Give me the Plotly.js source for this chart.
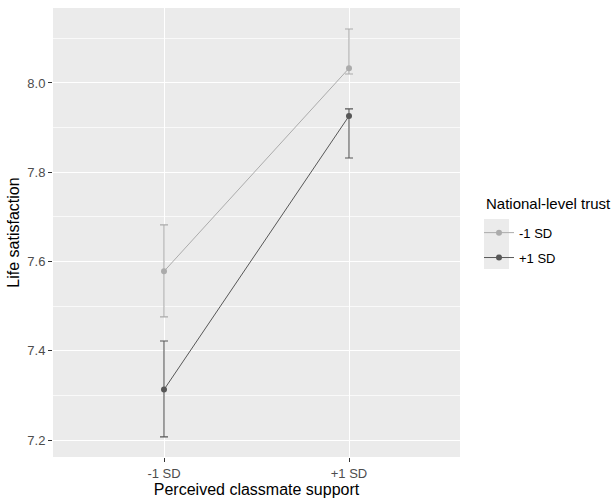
<!DOCTYPE html>
<html>
<head>
<meta charset="utf-8">
<script src="https://cdn.plot.ly/plotly-3.0.1.min.js"></script>
<style>html,body{margin:0;padding:0;background:#fff;}#chart{width:616px;height:498px;}</style>
</head>
<body>
<div id="chart"></div>
<script>
const categories = ["-1 SD", "+1 SD"];
const seriesNames = ["-1 SD", "+1 SD"];
const legendTitle = "National-level trust";
const lowTrustMean = [7.578, 8.033];
const lowTrustUpper = [7.682, 8.121];
const lowTrustLower = [7.476, 8.020];
const highTrustMean = [7.313, 7.926];
const highTrustUpper = [7.422, 7.942];
const highTrustLower = [7.207, 7.832];

const colors = ["#ababab", "#575757"];

function mkTrace(name, mean, up, lo, color) {
  return {
    type: "scatter", mode: "lines+markers", name: name, legendgroup: name,
    x: categories, y: mean,
    line: {color: color, width: 1},
    marker: {color: color, size: 6},
    error_y: {
      type: "data", symmetric: false,
      array: mean.map((m, i) => up[i] - m),
      arrayminus: mean.map((m, i) => m - lo[i]),
      color: color, thickness: 1.1, width: 4
    }
  };
}

const data = [
  mkTrace(seriesNames[0], lowTrustMean, lowTrustUpper, lowTrustLower, colors[0]),
  mkTrace(seriesNames[1], highTrustMean, highTrustUpper, highTrustLower, colors[1])
];

const layout = {
  width: 616, height: 498,
  margin: {l: 53, r: 156, t: 8, b: 41},
  paper_bgcolor: "#ffffff",
  plot_bgcolor: "#ebebeb",
  font: {family: "Liberation Sans, Arial, sans-serif", size: 13, color: "#4d4d4d"},
  showlegend: true,
  legend: {
    x: 1.0467, y: 0.533, xanchor: "left", yanchor: "top",
    traceorder: "grouped", tracegroupgap: 5,
    font: {size: 13, color: "#000"},
    bgcolor: "rgba(0,0,0,0)"
  },
  annotations: [
    {text: legendTitle, xref: "paper", yref: "paper", x: 1.059, y: 0.5635,
     xanchor: "left", yanchor: "middle", showarrow: false,
     font: {size: 15, color: "#000"}}
  ],
  xaxis: {
    type: "category", range: [-0.6, 1.6],
    showgrid: true, gridcolor: "#ffffff", gridwidth: 1,
    zeroline: false, showline: false,
    ticks: "outside", ticklen: 4, tickcolor: "#333333", tickwidth: 1,
    tickfont: {size: 13, color: "#4d4d4d"},
    title: {text: "Perceived classmate support", font: {size: 16, color: "#000"}, standoff: 3}
  },
  yaxis: {
    range: [7.162, 8.168],
    tick0: 7.2, dtick: 0.2, tickformat: ".1f",
    showgrid: true, gridcolor: "#ffffff", gridwidth: 1,
    minor: {tick0: 7.1, dtick: 0.2, showgrid: true, gridcolor: "#ffffff", gridwidth: 0.7, ticks: ""},
    zeroline: false, showline: false,
    ticks: "outside", ticklen: 4, tickcolor: "#333333", tickwidth: 1,
    tickfont: {size: 13, color: "#4d4d4d"},
    title: {text: "Life satisfaction", font: {size: 16, color: "#000"}, standoff: 3}
  },
  shapes: [
    {type: "rect", xref: "paper", yref: "paper", x0: 1.059, x1: 1.1204, y0: 0.4187, y1: 0.530,
     fillcolor: "#ebebeb", line: {width: 0}, layer: "below"}
  ]
};

Plotly.newPlot("chart", data, layout, {displayModeBar: false, staticPlot: true});
</script>
</body>
</html>
